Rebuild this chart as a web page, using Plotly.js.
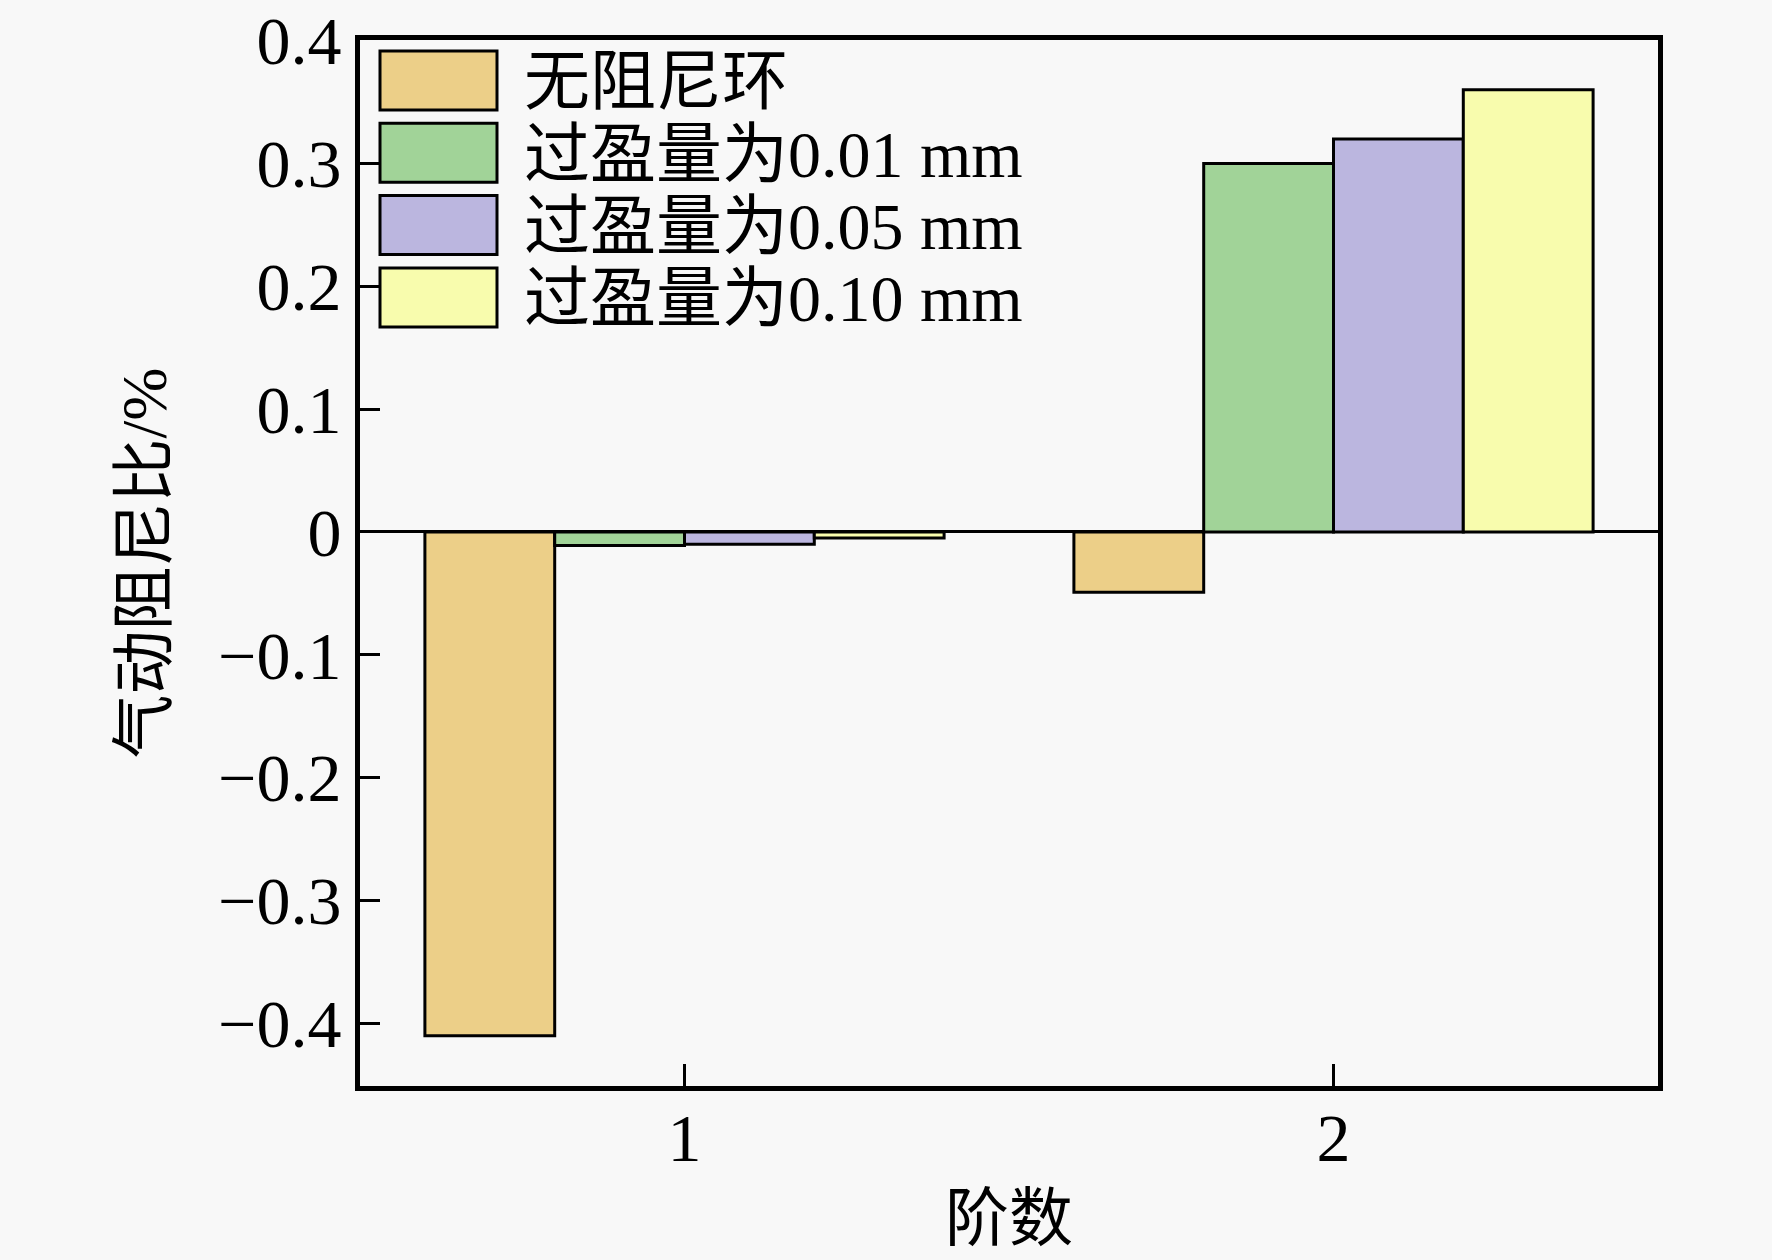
<!DOCTYPE html>
<html>
<head>
<meta charset="utf-8">
<script src="https://cdn.plot.ly/plotly-3.0.1.min.js"></script>
<style>
  html, body { margin: 0; padding: 0; background: #f8f8f8; }
  #chart { width: 1772px; height: 1260px; }
</style>
</head>
<body>
<div id="chart"></div>
<script>
// modes on the x axis
var orders = [1, 2];

// series names and values (aerodynamic damping ratio, %)
var seriesNames = ['无阻尼环', '过盈量为0.01 mm', '过盈量为0.05 mm', '过盈量为0.10 mm'];
var noRing = [-0.41, -0.049];
var fit001 = [-0.011, 0.30];
var fit005 = [-0.010, 0.32];
var fit010 = [-0.005, 0.36];
var seriesColors = ['#eccf88', '#a1d398', '#bbb6df', '#f8fcad'];

var yTicks = [-0.4, -0.3, -0.2, -0.1, 0, 0.1, 0.2, 0.3, 0.4];

var font = 'Liberation Serif, "Noto Sans CJK SC", serif';
var allValues = [noRing, fit001, fit005, fit010];

var data = [];
for (var i = 0; i < allValues.length; i++) {
	data.push({
		x: orders,
		y: allValues[i],
		type: 'bar',
		name: seriesNames[i],
		marker: {color: seriesColors[i], line: {color: '#000', width: 3}},
		showlegend: false
	});
}

// hand made legend with big swatches, like the original figure
var plotL = 360, plotR = 1658, plotT = 40, plotB = 1086;
function px(x) { return (x - plotL) / (plotR - plotL); }
function py(y) { return (plotB - y) / (plotB - plotT); }

var shapes = [];
var annotations = [];
for (var k = 0; k < seriesNames.length; k++) {
	var rowTop = 51 + k * 72.3;
	shapes.push({
		type: 'rect', xref: 'paper', yref: 'paper',
		x0: px(380), x1: px(497), y0: py(rowTop), y1: py(rowTop + 59),
		fillcolor: seriesColors[k], line: {color: '#000', width: 3}
	});
	annotations.push({
		xref: 'paper', yref: 'paper', x: px(522), y: py(rowTop + 31),
		xanchor: 'left', yanchor: 'middle', showarrow: false,
		text: seriesNames[k], font: {family: font, size: 66, color: '#000'}
	});
}

var layout = {
	width: 1772,
	height: 1260,
	margin: {l: plotL, r: 1772 - plotR, t: plotT, b: 1260 - plotB},
	paper_bgcolor: '#f8f8f8',
	plot_bgcolor: '#f8f8f8',
	font: {family: font, size: 64, color: '#000'},
	barmode: 'group',
	bargap: 0.2,
	bargroupgap: 0,
	xaxis: {
		range: [0.5, 2.5],
		tickvals: orders,
		ticks: 'inside', ticklen: 22, tickwidth: 3, tickcolor: '#000',
		showline: true, linecolor: '#000', linewidth: 5, mirror: true,
		showgrid: false, zeroline: false,
		ticklabelstandoff: -12,
		tickfont: {family: font, size: 68},
		title: {text: '阶数', font: {family: font, size: 64}, standoff: 22}
	},
	yaxis: {
		range: [-0.451, 0.4005],
		tickvals: yTicks,
		ticks: 'inside', ticklen: 20, tickwidth: 3, tickcolor: '#000',
		showline: true, linecolor: '#000', linewidth: 5, mirror: true,
		showgrid: false,
		zeroline: true, zerolinecolor: '#000', zerolinewidth: 3,
		ticklabeloverflow: 'allow',
		tickfont: {family: font, size: 68},
		title: {text: '气动阻尼比/%', font: {family: font, size: 64}, standoff: 32}
	},
	shapes: shapes,
	annotations: annotations
};

Plotly.newPlot('chart', data, layout, {staticPlot: true});
</script>
</body>
</html>
